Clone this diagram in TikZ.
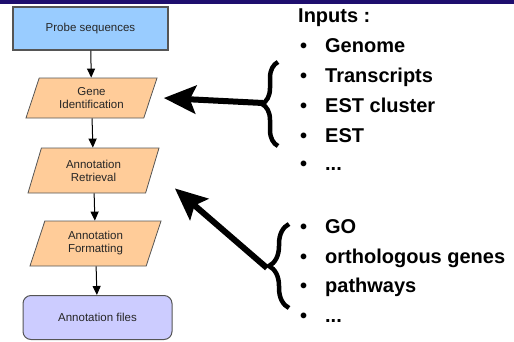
\documentclass[tikz,border=0pt]{standalone}
\usepackage{fontspec}
\setmainfont{Liberation Sans}
\usetikzlibrary{shapes.geometric,arrows.meta,decorations.pathreplacing}

\definecolor{probeblue}{HTML}{99CCFF}
\definecolor{stepfill}{HTML}{FFCC99}
\definecolor{filesfill}{HTML}{CCCCFF}
\definecolor{titlebar}{HTML}{1E0E6E}
\definecolor{boxline}{HTML}{555555}
\newcommand\moredots{...}

\begin{document}
\begin{tikzpicture}[x=1pt, y=-1pt,
    box/.style={draw=boxline, line width=1.2pt, text=black!85, align=center,
        font=\fontsize{11.5}{13}\selectfont, inner sep=0pt},
    process/.style={box, line width=0.8pt, fill=stepfill, trapezium,
        trapezium left angle=58, trapezium right angle=122,
        trapezium stretches body, minimum width=131pt, minimum height=40pt},
    flow/.style={-{Triangle[length=9pt,width=8pt]}, line width=1pt},
    bigarrow/.style={-{Stealth[length=32pt,width=28pt,inset=6pt]}, line width=6pt},
    bracket/.style={decorate, decoration={brace, amplitude=#1}, line width=4.5pt},
    listitem/.style={anchor=base west, inner sep=0pt,
        font=\fontsize{20}{24}\selectfont\bfseries}]
    \useasboundingbox (0,0) rectangle (514,341);
    \fill[titlebar] (0,0) rectangle (514,3.5);

    \node[box, fill=probeblue, minimum width=155pt, minimum height=43pt] (probe) at (90.5,28.5) {Probe sequences};
    \node[process] (geneid) at (91.5,98) {Gene\\Identification};
    \node[process, minimum height=45pt] (retrieval) at (93.5,170.5) {Annotation\\Retrieval};
    \node[process, minimum height=45pt] (formatting) at (95.5,243.5) {Annotation\\Formatting};
    \node[box, fill=filesfill, rounded corners=8pt, line width=1pt, minimum width=149pt, minimum height=44pt] (files) at (97.5,317.5) {Annotation files};

    \draw[flow] (probe) -- (geneid);
    \draw[flow] (geneid) -- (retrieval);
    \draw[flow] (retrieval) -- (formatting);
    \draw[flow] (formatting) -- (files);

    \node[listitem] (inputs) at (298,22) {Inputs :};
    \foreach \name/\txt/\y in {genome/Genome/52, transcripts/Transcripts/82,
        cluster/EST cluster/112, est/EST/142, moreinputs/\moredots/170}
        \node[listitem] (\name) at (300,\y) {\makebox[25pt][l]{\textbullet}\txt};
    \foreach \name/\txt/\y in {go/GO/233, ortho/orthologous genes/263,
        pathways/pathways/292, moresources/\moredots/322}
        \node[listitem] (\name) at (300,\y) {\makebox[25pt][l]{\textbullet}\txt};

    \draw[bracket=16pt] (278,146) -- (278,62);
    \coordinate (inputtip) at (263,103);
    \draw[bigarrow] (inputtip) -- ([xshift=13pt]geneid.east);

    \draw[bracket=20pt] (289,308) -- (289,224);
    \coordinate (sourcetip) at (267,268);
    \draw[bigarrow] (sourcetip) -- ([xshift=29pt,yshift=5pt]retrieval.bottom right corner);
\end{tikzpicture}
\end{document}
